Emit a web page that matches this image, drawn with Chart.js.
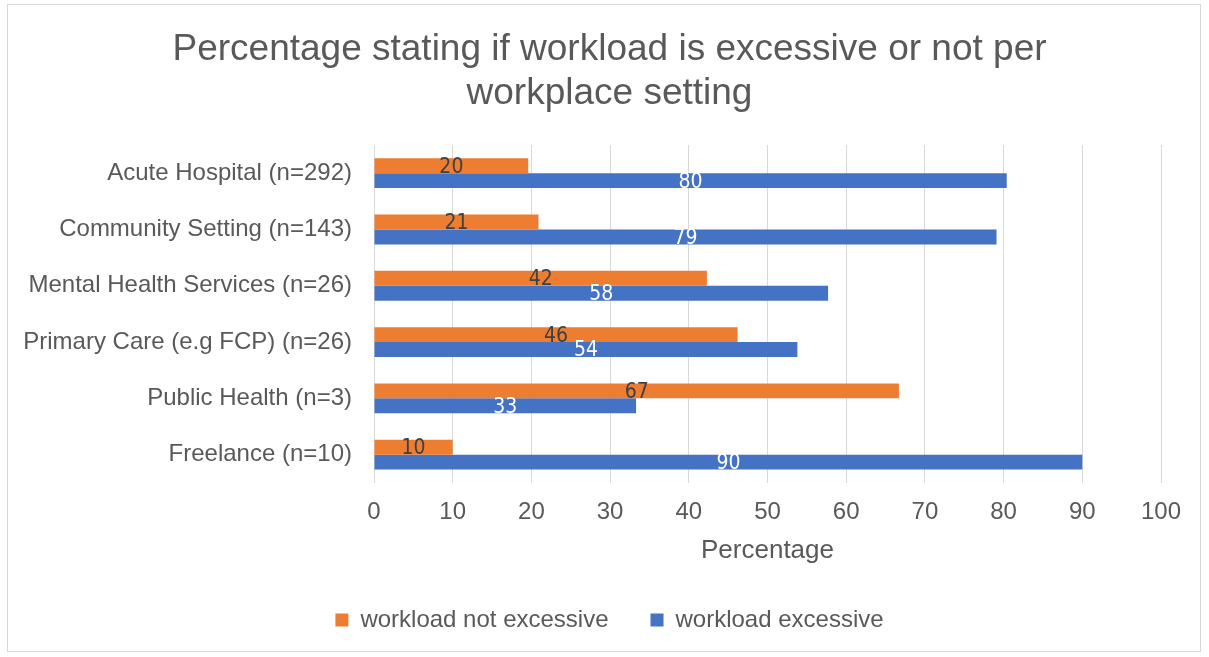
<!DOCTYPE html>
<html>
<head>
<meta charset="utf-8">
<title>Workload per workplace setting</title>
<script src="https://cdn.jsdelivr.net/npm/chart.js@4.4.1/dist/chart.umd.min.js"></script>
<style>
  html, body { margin: 0; padding: 0; background: #fff; }
  #wrap { width: 1209px; height: 657px; }
</style>
</head>
<body>
<div id="wrap"><canvas id="chart" width="1209" height="657"></canvas></div>
<script>
const settings     = ['Acute Hospital (n=292)', 'Community Setting (n=143)', 'Mental Health Services (n=26)',
                      'Primary Care (e.g FCP) (n=26)', 'Public Health (n=3)', 'Freelance (n=10)'];
const notExcessive = [19.6, 20.9, 42.3, 46.2, 66.7, 10.0];
const excessive    = [80.4, 79.1, 57.7, 53.8, 33.3, 90.0];
const xTicks       = [0, 10, 20, 30, 40, 50, 60, 70, 80, 90, 100];

const GREY  = '#595959';
const FONT  = '"Liberation Sans", Arial, sans-serif';

// thin frame round the whole chart
const framePlugin = {
  id: 'frame',
  beforeDraw(chart) {
    const ctx = chart.ctx;
    ctx.save();
    ctx.fillStyle = '#fff';
    ctx.fillRect(0, 0, chart.width, chart.height);
    ctx.strokeStyle = '#D9D9D9';
    ctx.lineWidth = 1;
    ctx.strokeRect(7.5, 4.5, 1193, 647);
    ctx.restore();
  }
};

// value labels in the middle of each bar
const barLabels = {
  id: 'barLabels',
  afterDatasetsDraw(chart) {
    const ctx = chart.ctx;
    ctx.save();
    ctx.font = '21px "DejaVu Sans Condensed", "Liberation Sans Narrow", sans-serif';
    ctx.textAlign = 'center';
    ctx.textBaseline = 'middle';
    chart.data.datasets.forEach((ds, i) => {
      const meta = chart.getDatasetMeta(i);
      ctx.fillStyle = i === 0 ? '#404040' : '#ffffff';
      meta.data.forEach((bar, j) => {
        const x = (bar.x + bar.base) / 2;
        ctx.fillText(Math.round(ds.data[j]), x, bar.y + 1.5);
      });
    });
    ctx.restore();
  }
};

new Chart(document.getElementById('chart'), {
  type: 'bar',
  data: {
    labels: settings,
    datasets: [
      {
        label: 'workload not excessive',
        data: notExcessive,
        backgroundColor: '#ED7D31',
        categoryPercentage: 0.53,
        barPercentage: 1.0,
      },
      {
        label: 'workload excessive',
        data: excessive,
        backgroundColor: '#4472C4',
        categoryPercentage: 0.53,
        barPercentage: 1.0,
      }
    ]
  },
  options: {
    indexAxis: 'y',
    responsive: false,
    animation: false,
    layout: { padding: { left: 10, right: 0, top: 0, bottom: 15 } },
    plugins: {
      title: {
        display: true,
        text: ['Percentage stating if workload is excessive or not per', 'workplace setting'],
        color: GREY,
        font: { family: FONT, size: 37, weight: 'normal', lineHeight: 1.19 },
        padding: { top: 28, bottom: 29 },
      },
      legend: {
        position: 'bottom',
        labels: {
          color: GREY,
          font: { family: FONT, size: 24 },
          boxWidth: 13,
          boxHeight: 13,
          padding: 42,
        }
      },
      tooltip: { enabled: false }
    },
    scales: {
      x: {
        min: 0, max: 100,
        afterBuildTicks: scale => { scale.ticks = xTicks.map(v => ({ value: v })); },
        grid: { color: '#D9D9D9', drawTicks: false },
        border: { display: false },
        ticks: { color: GREY, font: { family: FONT, size: 24 }, padding: 15.6 },
        title: {
          display: true,
          text: 'Percentage',
          color: GREY,
          font: { family: FONT, size: 26 },
          padding: { top: -8, bottom: 0 },
        }
      },
      y: {
        afterFit: scale => { scale.width = 364; },
        grid: { display: false, drawTicks: false },
        border: { display: false },
        ticks: { color: GREY, font: { family: FONT, size: 24 }, padding: 22 },
      },
      // empty strip on the right so the plot ends at 100 with room to spare
      yRight: {
        type: 'category',
        position: 'right',
        afterFit: scale => { scale.width = 48; },
        grid: { display: false, drawTicks: false },
        border: { display: false },
        ticks: { display: false },
      }
    }
  },
  plugins: [framePlugin, barLabels]
});
</script>
</body>
</html>
